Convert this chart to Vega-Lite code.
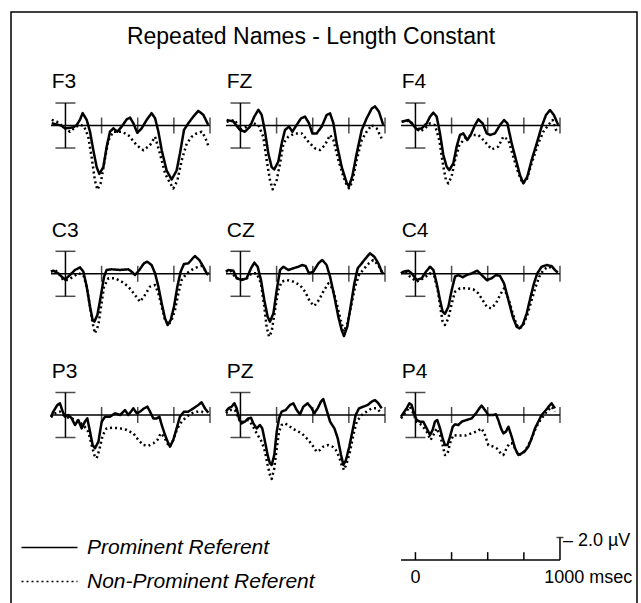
{
"$schema": "https://vega.github.io/schema/vega-lite/v6.json",
"width": 626, "height": 600,
"autosize": {"type": "none"},
"padding": {"left": 11, "top": 12, "right": 4, "bottom": 0},
"background": "white",
"config": {"view": {"stroke": "black", "strokeWidth": 1.5}, "axis": {"disable": true}, "font": "Liberation Sans", "text": {"font": "Liberation Sans"}},
"title": {"text": "Repeated Names - Length Constant", "fontSize": 23, "font": "Liberation Sans", "fontWeight": "normal", "color": "black", "anchor": "middle", "baseline": "alphabetic", "offset": -55, "dx": -13},
"datasets": {
"one": [{}],
"ticks": [{"t": 250}, {"t": 500}, {"t": 750}, {"t": 1000}],
"caps": [{"v": -2}, {"v": 2}],
"sticks": [{"t": 0}, {"t": 250}, {"t": 500}, {"t": 750}],
"erp": [
{"ch":"F3","cond":"P","t":-95,"v":-0.2},{"ch":"F3","cond":"P","t":-60,"v":-0.1},{"ch":"F3","cond":"P","t":-30,"v":0.0},{"ch":"F3","cond":"P","t":-3,"v":0.25},{"ch":"F3","cond":"P","t":30,"v":0.2},{"ch":"F3","cond":"P","t":54,"v":0.16},{"ch":"F3","cond":"P","t":78,"v":-0.05},{"ch":"F3","cond":"P","t":100,"v":-0.5},{"ch":"F3","cond":"P","t":119,"v":-1.1},{"ch":"F3","cond":"P","t":147,"v":-0.5},{"ch":"F3","cond":"P","t":170,"v":0.55},{"ch":"F3","cond":"P","t":193,"v":2.2},{"ch":"F3","cond":"P","t":216,"v":3.7},{"ch":"F3","cond":"P","t":234,"v":4.3},{"ch":"F3","cond":"P","t":262,"v":3.7},{"ch":"F3","cond":"P","t":285,"v":1.9},{"ch":"F3","cond":"P","t":308,"v":0.55},{"ch":"F3","cond":"P","t":331,"v":0.25},{"ch":"F3","cond":"P","t":359,"v":0.55},{"ch":"F3","cond":"P","t":389,"v":0.1},{"ch":"F3","cond":"P","t":424,"v":-0.55},{"ch":"F3","cond":"P","t":447,"v":-0.7},{"ch":"F3","cond":"P","t":470,"v":-0.2},{"ch":"F3","cond":"P","t":497,"v":0.65},{"ch":"F3","cond":"P","t":527,"v":0.25},{"ch":"F3","cond":"P","t":562,"v":-0.5},{"ch":"F3","cond":"P","t":596,"v":-1.1},{"ch":"F3","cond":"P","t":620,"v":-0.65},{"ch":"F3","cond":"P","t":643,"v":0.55},{"ch":"F3","cond":"P","t":666,"v":2.2},{"ch":"F3","cond":"P","t":700,"v":4.0},{"ch":"F3","cond":"P","t":735,"v":4.8},{"ch":"F3","cond":"P","t":769,"v":4.0},{"ch":"F3","cond":"P","t":792,"v":2.5},{"ch":"F3","cond":"P","t":820,"v":0.4},{"ch":"F3","cond":"P","t":850,"v":-0.2},{"ch":"F3","cond":"P","t":885,"v":-0.8},{"ch":"F3","cond":"P","t":919,"v":-1.3},{"ch":"F3","cond":"P","t":954,"v":-0.95},{"ch":"F3","cond":"P","t":988,"v":-0.05},
{"ch":"F3","cond":"N","t":-95,"v":-0.5},{"ch":"F3","cond":"N","t":-61,"v":-0.35},{"ch":"F3","cond":"N","t":-3,"v":0.25},{"ch":"F3","cond":"N","t":31,"v":0.55},{"ch":"F3","cond":"N","t":66,"v":0.16},{"ch":"F3","cond":"N","t":101,"v":-0.05},{"ch":"F3","cond":"N","t":128,"v":0.04},{"ch":"F3","cond":"N","t":158,"v":1.0},{"ch":"F3","cond":"N","t":181,"v":2.8},{"ch":"F3","cond":"N","t":204,"v":4.9},{"ch":"F3","cond":"N","t":221,"v":5.7},{"ch":"F3","cond":"N","t":244,"v":5.1},{"ch":"F3","cond":"N","t":267,"v":3.4},{"ch":"F3","cond":"N","t":297,"v":1.3},{"ch":"F3","cond":"N","t":331,"v":0.55},{"ch":"F3","cond":"N","t":389,"v":0.55},{"ch":"F3","cond":"N","t":435,"v":0.85},{"ch":"F3","cond":"N","t":493,"v":1.75},{"ch":"F3","cond":"N","t":539,"v":2.2},{"ch":"F3","cond":"N","t":585,"v":1.75},{"ch":"F3","cond":"N","t":620,"v":1.0},{"ch":"F3","cond":"N","t":654,"v":2.5},{"ch":"F3","cond":"N","t":689,"v":4.25},{"ch":"F3","cond":"N","t":723,"v":5.1},{"ch":"F3","cond":"N","t":746,"v":5.6},{"ch":"F3","cond":"N","t":774,"v":4.9},{"ch":"F3","cond":"N","t":804,"v":3.1},{"ch":"F3","cond":"N","t":839,"v":1.6},{"ch":"F3","cond":"N","t":873,"v":1.0},{"ch":"F3","cond":"N","t":908,"v":0.7},{"ch":"F3","cond":"N","t":942,"v":0.55},{"ch":"F3","cond":"N","t":965,"v":1.0},{"ch":"F3","cond":"N","t":988,"v":1.8},
{"ch":"FZ","cond":"P","t":-95,"v":-0.5},{"ch":"FZ","cond":"P","t":-49,"v":-0.35},{"ch":"FZ","cond":"P","t":-3,"v":0.4},{"ch":"FZ","cond":"P","t":31,"v":0.55},{"ch":"FZ","cond":"P","t":66,"v":0.1},{"ch":"FZ","cond":"P","t":96,"v":-0.8},{"ch":"FZ","cond":"P","t":124,"v":-1.4},{"ch":"FZ","cond":"P","t":147,"v":-0.95},{"ch":"FZ","cond":"P","t":170,"v":0.55},{"ch":"FZ","cond":"P","t":193,"v":2.5},{"ch":"FZ","cond":"P","t":216,"v":3.7},{"ch":"FZ","cond":"P","t":234,"v":3.9},{"ch":"FZ","cond":"P","t":262,"v":3.2},{"ch":"FZ","cond":"P","t":285,"v":1.6},{"ch":"FZ","cond":"P","t":308,"v":0.4},{"ch":"FZ","cond":"P","t":336,"v":0.1},{"ch":"FZ","cond":"P","t":359,"v":0.55},{"ch":"FZ","cond":"P","t":389,"v":-0.05},{"ch":"FZ","cond":"P","t":419,"v":-0.64},{"ch":"FZ","cond":"P","t":447,"v":-0.79},{"ch":"FZ","cond":"P","t":474,"v":-0.2},{"ch":"FZ","cond":"P","t":497,"v":0.7},{"ch":"FZ","cond":"P","t":527,"v":0.7},{"ch":"FZ","cond":"P","t":562,"v":0.1},{"ch":"FZ","cond":"P","t":596,"v":-0.93},{"ch":"FZ","cond":"P","t":620,"v":-1.08},{"ch":"FZ","cond":"P","t":643,"v":-0.2},{"ch":"FZ","cond":"P","t":666,"v":1.6},{"ch":"FZ","cond":"P","t":700,"v":3.66},{"ch":"FZ","cond":"P","t":735,"v":5.1},{"ch":"FZ","cond":"P","t":751,"v":5.4},{"ch":"FZ","cond":"P","t":774,"v":4.5},{"ch":"FZ","cond":"P","t":804,"v":2.5},{"ch":"FZ","cond":"P","t":839,"v":0.4},{"ch":"FZ","cond":"P","t":873,"v":-0.64},{"ch":"FZ","cond":"P","t":908,"v":-1.5},{"ch":"FZ","cond":"P","t":931,"v":-1.7},{"ch":"FZ","cond":"P","t":958,"v":-1.23},{"ch":"FZ","cond":"P","t":988,"v":-0.05},
{"ch":"FZ","cond":"N","t":-95,"v":-0.34},{"ch":"FZ","cond":"N","t":-38,"v":-0.49},{"ch":"FZ","cond":"N","t":-3,"v":0.4},{"ch":"FZ","cond":"N","t":43,"v":0.1},{"ch":"FZ","cond":"N","t":89,"v":-0.19},{"ch":"FZ","cond":"N","t":124,"v":-0.04},{"ch":"FZ","cond":"N","t":158,"v":1.0},{"ch":"FZ","cond":"N","t":181,"v":3.07},{"ch":"FZ","cond":"N","t":204,"v":4.84},{"ch":"FZ","cond":"N","t":223,"v":5.67},{"ch":"FZ","cond":"N","t":251,"v":4.84},{"ch":"FZ","cond":"N","t":274,"v":3.36},{"ch":"FZ","cond":"N","t":297,"v":1.59},{"ch":"FZ","cond":"N","t":331,"v":0.99},{"ch":"FZ","cond":"N","t":377,"v":0.7},{"ch":"FZ","cond":"N","t":424,"v":0.7},{"ch":"FZ","cond":"N","t":470,"v":1.44},{"ch":"FZ","cond":"N","t":516,"v":2.03},{"ch":"FZ","cond":"N","t":550,"v":2.18},{"ch":"FZ","cond":"N","t":585,"v":1.73},{"ch":"FZ","cond":"N","t":620,"v":0.84},{"ch":"FZ","cond":"N","t":643,"v":1.29},{"ch":"FZ","cond":"N","t":677,"v":3.07},{"ch":"FZ","cond":"N","t":712,"v":4.55},{"ch":"FZ","cond":"N","t":735,"v":5.29},{"ch":"FZ","cond":"N","t":751,"v":5.58},{"ch":"FZ","cond":"N","t":774,"v":4.99},{"ch":"FZ","cond":"N","t":804,"v":3.07},{"ch":"FZ","cond":"N","t":839,"v":1.29},{"ch":"FZ","cond":"N","t":873,"v":0.55},{"ch":"FZ","cond":"N","t":908,"v":-0.04},{"ch":"FZ","cond":"N","t":942,"v":0.25},{"ch":"FZ","cond":"N","t":977,"v":1.14},
{"ch":"F4","cond":"P","t":-95,"v":-0.34},{"ch":"F4","cond":"P","t":-49,"v":-0.49},{"ch":"F4","cond":"P","t":-15,"v":-0.04},{"ch":"F4","cond":"P","t":8,"v":0.34},{"ch":"F4","cond":"P","t":43,"v":0.25},{"ch":"F4","cond":"P","t":78,"v":-0.19},{"ch":"F4","cond":"P","t":101,"v":-0.79},{"ch":"F4","cond":"P","t":124,"v":-1.14},{"ch":"F4","cond":"P","t":147,"v":-0.79},{"ch":"F4","cond":"P","t":170,"v":0.7},{"ch":"F4","cond":"P","t":193,"v":2.62},{"ch":"F4","cond":"P","t":216,"v":3.66},{"ch":"F4","cond":"P","t":234,"v":3.96},{"ch":"F4","cond":"P","t":262,"v":3.36},{"ch":"F4","cond":"P","t":285,"v":1.88},{"ch":"F4","cond":"P","t":308,"v":0.84},{"ch":"F4","cond":"P","t":331,"v":0.7},{"ch":"F4","cond":"P","t":359,"v":1.29},{"ch":"F4","cond":"P","t":382,"v":0.84},{"ch":"F4","cond":"P","t":412,"v":-0.04},{"ch":"F4","cond":"P","t":435,"v":-0.55},{"ch":"F4","cond":"P","t":465,"v":-0.19},{"ch":"F4","cond":"P","t":493,"v":0.7},{"ch":"F4","cond":"P","t":516,"v":0.84},{"ch":"F4","cond":"P","t":550,"v":0.7},{"ch":"F4","cond":"P","t":585,"v":-0.04},{"ch":"F4","cond":"P","t":613,"v":-0.49},{"ch":"F4","cond":"P","t":636,"v":-0.19},{"ch":"F4","cond":"P","t":666,"v":1.59},{"ch":"F4","cond":"P","t":696,"v":3.07},{"ch":"F4","cond":"P","t":723,"v":4.4},{"ch":"F4","cond":"P","t":746,"v":5.14},{"ch":"F4","cond":"P","t":774,"v":4.55},{"ch":"F4","cond":"P","t":804,"v":3.07},{"ch":"F4","cond":"P","t":839,"v":1.59},{"ch":"F4","cond":"P","t":873,"v":0.1},{"ch":"F4","cond":"P","t":903,"v":-0.93},{"ch":"F4","cond":"P","t":931,"v":-1.38},{"ch":"F4","cond":"P","t":958,"v":-0.93},{"ch":"F4","cond":"P","t":988,"v":-0.04},
{"ch":"F4","cond":"N","t":-95,"v":-0.34},{"ch":"F4","cond":"N","t":-38,"v":-0.43},{"ch":"F4","cond":"N","t":-3,"v":0.1},{"ch":"F4","cond":"N","t":31,"v":0.55},{"ch":"F4","cond":"N","t":66,"v":0.25},{"ch":"F4","cond":"N","t":101,"v":-0.19},{"ch":"F4","cond":"N","t":135,"v":-0.04},{"ch":"F4","cond":"N","t":165,"v":1.29},{"ch":"F4","cond":"N","t":193,"v":3.66},{"ch":"F4","cond":"N","t":211,"v":4.84},{"ch":"F4","cond":"N","t":227,"v":5.14},{"ch":"F4","cond":"N","t":250,"v":4.55},{"ch":"F4","cond":"N","t":274,"v":3.07},{"ch":"F4","cond":"N","t":304,"v":1.73},{"ch":"F4","cond":"N","t":343,"v":1.14},{"ch":"F4","cond":"N","t":389,"v":0.84},{"ch":"F4","cond":"N","t":435,"v":0.84},{"ch":"F4","cond":"N","t":481,"v":1.44},{"ch":"F4","cond":"N","t":527,"v":2.12},{"ch":"F4","cond":"N","t":573,"v":1.88},{"ch":"F4","cond":"N","t":608,"v":0.99},{"ch":"F4","cond":"N","t":643,"v":1.29},{"ch":"F4","cond":"N","t":677,"v":2.77},{"ch":"F4","cond":"N","t":712,"v":4.25},{"ch":"F4","cond":"N","t":742,"v":5.14},{"ch":"F4","cond":"N","t":769,"v":4.84},{"ch":"F4","cond":"N","t":804,"v":3.36},{"ch":"F4","cond":"N","t":850,"v":1.59},{"ch":"F4","cond":"N","t":885,"v":0.55},{"ch":"F4","cond":"N","t":919,"v":-0.04},{"ch":"F4","cond":"N","t":949,"v":-0.49},{"ch":"F4","cond":"N","t":977,"v":0.55},
{"ch":"C3","cond":"P","t":-100,"v":-0.2},{"ch":"C3","cond":"P","t":-84,"v":-0.28},{"ch":"C3","cond":"P","t":-49,"v":-0.04},{"ch":"C3","cond":"P","t":-26,"v":0.25},{"ch":"C3","cond":"P","t":-3,"v":0.5},{"ch":"C3","cond":"P","t":31,"v":0.11},{"ch":"C3","cond":"P","t":66,"v":-0.34},{"ch":"C3","cond":"P","t":101,"v":-0.57},{"ch":"C3","cond":"P","t":124,"v":-0.19},{"ch":"C3","cond":"P","t":147,"v":1.14},{"ch":"C3","cond":"P","t":170,"v":2.92},{"ch":"C3","cond":"P","t":188,"v":4.11},{"ch":"C3","cond":"P","t":200,"v":4.25},{"ch":"C3","cond":"P","t":221,"v":3.66},{"ch":"C3","cond":"P","t":244,"v":2.03},{"ch":"C3","cond":"P","t":267,"v":0.25},{"ch":"C3","cond":"P","t":285,"v":-0.34},{"ch":"C3","cond":"P","t":320,"v":-0.4},{"ch":"C3","cond":"P","t":378,"v":-0.34},{"ch":"C3","cond":"P","t":435,"v":-0.4},{"ch":"C3","cond":"P","t":458,"v":-0.19},{"ch":"C3","cond":"P","t":481,"v":0.11},{"ch":"C3","cond":"P","t":511,"v":-0.34},{"ch":"C3","cond":"P","t":543,"v":-0.93},{"ch":"C3","cond":"P","t":566,"v":-1.08},{"ch":"C3","cond":"P","t":596,"v":-0.78},{"ch":"C3","cond":"P","t":620,"v":-0.04},{"ch":"C3","cond":"P","t":643,"v":1.14},{"ch":"C3","cond":"P","t":666,"v":2.63},{"ch":"C3","cond":"P","t":689,"v":3.96},{"ch":"C3","cond":"P","t":707,"v":4.55},{"ch":"C3","cond":"P","t":728,"v":4.11},{"ch":"C3","cond":"P","t":751,"v":2.92},{"ch":"C3","cond":"P","t":774,"v":1.14},{"ch":"C3","cond":"P","t":797,"v":-0.19},{"ch":"C3","cond":"P","t":820,"v":-0.87},{"ch":"C3","cond":"P","t":850,"v":-0.93},{"ch":"C3","cond":"P","t":880,"v":-1.37},{"ch":"C3","cond":"P","t":896,"v":-1.58},{"ch":"C3","cond":"P","t":926,"v":-1.23},{"ch":"C3","cond":"P","t":954,"v":-0.63},{"ch":"C3","cond":"P","t":977,"v":-0.04},{"ch":"C3","cond":"P","t":988,"v":0.1},
{"ch":"C3","cond":"N","t":-100,"v":-0.2},{"ch":"C3","cond":"N","t":-72,"v":-0.34},{"ch":"C3","cond":"N","t":-38,"v":0.11},{"ch":"C3","cond":"N","t":-15,"v":0.55},{"ch":"C3","cond":"N","t":20,"v":0.55},{"ch":"C3","cond":"N","t":54,"v":0.25},{"ch":"C3","cond":"N","t":89,"v":-0.04},{"ch":"C3","cond":"N","t":124,"v":0.11},{"ch":"C3","cond":"N","t":147,"v":1.14},{"ch":"C3","cond":"N","t":170,"v":2.92},{"ch":"C3","cond":"N","t":188,"v":4.4},{"ch":"C3","cond":"N","t":204,"v":5.29},{"ch":"C3","cond":"N","t":228,"v":4.55},{"ch":"C3","cond":"N","t":246,"v":2.92},{"ch":"C3","cond":"N","t":267,"v":1.14},{"ch":"C3","cond":"N","t":297,"v":0.4},{"ch":"C3","cond":"N","t":343,"v":0.4},{"ch":"C3","cond":"N","t":389,"v":0.7},{"ch":"C3","cond":"N","t":435,"v":1.14},{"ch":"C3","cond":"N","t":481,"v":1.88},{"ch":"C3","cond":"N","t":516,"v":2.48},{"ch":"C3","cond":"N","t":550,"v":1.88},{"ch":"C3","cond":"N","t":585,"v":1.14},{"ch":"C3","cond":"N","t":620,"v":1.0},{"ch":"C3","cond":"N","t":643,"v":1.74},{"ch":"C3","cond":"N","t":666,"v":2.92},{"ch":"C3","cond":"N","t":689,"v":4.11},{"ch":"C3","cond":"N","t":712,"v":4.55},{"ch":"C3","cond":"N","t":735,"v":4.11},{"ch":"C3","cond":"N","t":758,"v":3.22},{"ch":"C3","cond":"N","t":781,"v":1.74},{"ch":"C3","cond":"N","t":804,"v":0.55},{"ch":"C3","cond":"N","t":839,"v":-0.04},{"ch":"C3","cond":"N","t":873,"v":-0.34},{"ch":"C3","cond":"N","t":908,"v":-0.57},{"ch":"C3","cond":"N","t":942,"v":-0.69},{"ch":"C3","cond":"N","t":965,"v":-0.34},{"ch":"C3","cond":"N","t":988,"v":0.0},
{"ch":"CZ","cond":"P","t":-100,"v":-0.19},{"ch":"CZ","cond":"P","t":-84,"v":-0.34},{"ch":"CZ","cond":"P","t":-49,"v":-0.28},{"ch":"CZ","cond":"P","t":-26,"v":0.4},{"ch":"CZ","cond":"P","t":8,"v":0.55},{"ch":"CZ","cond":"P","t":43,"v":0.4},{"ch":"CZ","cond":"P","t":73,"v":-0.49},{"ch":"CZ","cond":"P","t":96,"v":-0.99},{"ch":"CZ","cond":"P","t":119,"v":-0.63},{"ch":"CZ","cond":"P","t":142,"v":0.55},{"ch":"CZ","cond":"P","t":165,"v":2.33},{"ch":"CZ","cond":"P","t":188,"v":3.81},{"ch":"CZ","cond":"P","t":204,"v":4.25},{"ch":"CZ","cond":"P","t":228,"v":3.51},{"ch":"CZ","cond":"P","t":251,"v":1.44},{"ch":"CZ","cond":"P","t":274,"v":-0.34},{"ch":"CZ","cond":"P","t":297,"v":-0.63},{"ch":"CZ","cond":"P","t":331,"v":-0.34},{"ch":"CZ","cond":"P","t":366,"v":-0.49},{"ch":"CZ","cond":"P","t":401,"v":-0.63},{"ch":"CZ","cond":"P","t":428,"v":-0.78},{"ch":"CZ","cond":"P","t":451,"v":-0.69},{"ch":"CZ","cond":"P","t":474,"v":-0.04},{"ch":"CZ","cond":"P","t":504,"v":-0.19},{"ch":"CZ","cond":"P","t":539,"v":-0.93},{"ch":"CZ","cond":"P","t":566,"v":-1.23},{"ch":"CZ","cond":"P","t":596,"v":-0.78},{"ch":"CZ","cond":"P","t":620,"v":0.25},{"ch":"CZ","cond":"P","t":650,"v":2.03},{"ch":"CZ","cond":"P","t":677,"v":3.81},{"ch":"CZ","cond":"P","t":700,"v":4.99},{"ch":"CZ","cond":"P","t":716,"v":5.53},{"ch":"CZ","cond":"P","t":739,"v":4.7},{"ch":"CZ","cond":"P","t":762,"v":2.92},{"ch":"CZ","cond":"P","t":788,"v":0.85},{"ch":"CZ","cond":"P","t":811,"v":-0.49},{"ch":"CZ","cond":"P","t":839,"v":-0.93},{"ch":"CZ","cond":"P","t":866,"v":-1.37},{"ch":"CZ","cond":"P","t":896,"v":-1.82},{"ch":"CZ","cond":"P","t":926,"v":-1.52},{"ch":"CZ","cond":"P","t":954,"v":-0.93},{"ch":"CZ","cond":"P","t":977,"v":-0.19},{"ch":"CZ","cond":"P","t":988,"v":0.0},
{"ch":"CZ","cond":"N","t":-100,"v":-0.2},{"ch":"CZ","cond":"N","t":-72,"v":-0.34},{"ch":"CZ","cond":"N","t":-38,"v":0.25},{"ch":"CZ","cond":"N","t":-3,"v":0.55},{"ch":"CZ","cond":"N","t":43,"v":0.4},{"ch":"CZ","cond":"N","t":78,"v":-0.04},{"ch":"CZ","cond":"N","t":112,"v":-0.04},{"ch":"CZ","cond":"N","t":142,"v":0.85},{"ch":"CZ","cond":"N","t":165,"v":2.92},{"ch":"CZ","cond":"N","t":181,"v":4.7},{"ch":"CZ","cond":"N","t":198,"v":5.59},{"ch":"CZ","cond":"N","t":216,"v":5.14},{"ch":"CZ","cond":"N","t":239,"v":3.22},{"ch":"CZ","cond":"N","t":262,"v":1.44},{"ch":"CZ","cond":"N","t":285,"v":0.7},{"ch":"CZ","cond":"N","t":320,"v":0.55},{"ch":"CZ","cond":"N","t":366,"v":0.7},{"ch":"CZ","cond":"N","t":412,"v":1.0},{"ch":"CZ","cond":"N","t":447,"v":1.59},{"ch":"CZ","cond":"N","t":481,"v":2.48},{"ch":"CZ","cond":"N","t":511,"v":2.86},{"ch":"CZ","cond":"N","t":543,"v":2.33},{"ch":"CZ","cond":"N","t":573,"v":1.59},{"ch":"CZ","cond":"N","t":608,"v":0.85},{"ch":"CZ","cond":"N","t":636,"v":1.29},{"ch":"CZ","cond":"N","t":666,"v":2.63},{"ch":"CZ","cond":"N","t":693,"v":4.11},{"ch":"CZ","cond":"N","t":716,"v":5.14},{"ch":"CZ","cond":"N","t":739,"v":4.4},{"ch":"CZ","cond":"N","t":765,"v":2.92},{"ch":"CZ","cond":"N","t":793,"v":1.14},{"ch":"CZ","cond":"N","t":820,"v":0.11},{"ch":"CZ","cond":"N","t":857,"v":-0.49},{"ch":"CZ","cond":"N","t":889,"v":-0.93},{"ch":"CZ","cond":"N","t":919,"v":-1.23},{"ch":"CZ","cond":"N","t":954,"v":-0.78},{"ch":"CZ","cond":"N","t":977,"v":-0.19},
{"ch":"C4","cond":"P","t":-100,"v":-0.04},{"ch":"C4","cond":"P","t":-84,"v":-0.19},{"ch":"C4","cond":"P","t":-49,"v":-0.28},{"ch":"C4","cond":"P","t":-26,"v":-0.04},{"ch":"C4","cond":"P","t":8,"v":0.55},{"ch":"C4","cond":"P","t":43,"v":0.4},{"ch":"C4","cond":"P","t":73,"v":-0.19},{"ch":"C4","cond":"P","t":101,"v":-0.63},{"ch":"C4","cond":"P","t":124,"v":-0.34},{"ch":"C4","cond":"P","t":147,"v":0.85},{"ch":"C4","cond":"P","t":170,"v":2.33},{"ch":"C4","cond":"P","t":188,"v":3.36},{"ch":"C4","cond":"P","t":204,"v":3.57},{"ch":"C4","cond":"P","t":228,"v":2.92},{"ch":"C4","cond":"P","t":251,"v":1.44},{"ch":"C4","cond":"P","t":274,"v":0.25},{"ch":"C4","cond":"P","t":297,"v":0.11},{"ch":"C4","cond":"P","t":327,"v":0.31},{"ch":"C4","cond":"P","t":355,"v":0.11},{"ch":"C4","cond":"P","t":389,"v":-0.04},{"ch":"C4","cond":"P","t":428,"v":-0.28},{"ch":"C4","cond":"P","t":458,"v":0.11},{"ch":"C4","cond":"P","t":493,"v":0.55},{"ch":"C4","cond":"P","t":527,"v":0.4},{"ch":"C4","cond":"P","t":557,"v":0.11},{"ch":"C4","cond":"P","t":585,"v":0.19},{"ch":"C4","cond":"P","t":613,"v":0.85},{"ch":"C4","cond":"P","t":643,"v":2.33},{"ch":"C4","cond":"P","t":673,"v":3.81},{"ch":"C4","cond":"P","t":700,"v":4.7},{"ch":"C4","cond":"P","t":719,"v":4.85},{"ch":"C4","cond":"P","t":742,"v":4.55},{"ch":"C4","cond":"P","t":770,"v":3.51},{"ch":"C4","cond":"P","t":797,"v":2.03},{"ch":"C4","cond":"P","t":820,"v":0.85},{"ch":"C4","cond":"P","t":843,"v":-0.04},{"ch":"C4","cond":"P","t":873,"v":-0.63},{"ch":"C4","cond":"P","t":908,"v":-0.78},{"ch":"C4","cond":"P","t":942,"v":-0.69},{"ch":"C4","cond":"P","t":965,"v":-0.34},{"ch":"C4","cond":"P","t":985,"v":-0.1},
{"ch":"C4","cond":"N","t":-100,"v":-0.04},{"ch":"C4","cond":"N","t":-72,"v":-0.19},{"ch":"C4","cond":"N","t":-38,"v":0.25},{"ch":"C4","cond":"N","t":8,"v":0.7},{"ch":"C4","cond":"N","t":55,"v":0.4},{"ch":"C4","cond":"N","t":101,"v":-0.04},{"ch":"C4","cond":"N","t":131,"v":0.25},{"ch":"C4","cond":"N","t":154,"v":1.44},{"ch":"C4","cond":"N","t":175,"v":3.22},{"ch":"C4","cond":"N","t":188,"v":4.25},{"ch":"C4","cond":"N","t":204,"v":4.55},{"ch":"C4","cond":"N","t":228,"v":3.96},{"ch":"C4","cond":"N","t":251,"v":2.63},{"ch":"C4","cond":"N","t":274,"v":1.59},{"ch":"C4","cond":"N","t":308,"v":1.29},{"ch":"C4","cond":"N","t":354,"v":1.29},{"ch":"C4","cond":"N","t":400,"v":1.38},{"ch":"C4","cond":"N","t":435,"v":1.74},{"ch":"C4","cond":"N","t":465,"v":2.33},{"ch":"C4","cond":"N","t":493,"v":2.92},{"ch":"C4","cond":"N","t":523,"v":3.07},{"ch":"C4","cond":"N","t":557,"v":2.63},{"ch":"C4","cond":"N","t":585,"v":1.88},{"ch":"C4","cond":"N","t":613,"v":1.29},{"ch":"C4","cond":"N","t":643,"v":2.18},{"ch":"C4","cond":"N","t":673,"v":3.51},{"ch":"C4","cond":"N","t":700,"v":4.55},{"ch":"C4","cond":"N","t":723,"v":4.85},{"ch":"C4","cond":"N","t":746,"v":4.55},{"ch":"C4","cond":"N","t":774,"v":3.66},{"ch":"C4","cond":"N","t":804,"v":2.33},{"ch":"C4","cond":"N","t":832,"v":1.14},{"ch":"C4","cond":"N","t":857,"v":0.25},{"ch":"C4","cond":"N","t":885,"v":-0.34},{"ch":"C4","cond":"N","t":919,"v":-0.63},{"ch":"C4","cond":"N","t":954,"v":-0.49},
{"ch":"P3","cond":"P","t":-100,"v":0.15},{"ch":"P3","cond":"P","t":-84,"v":-0.3},{"ch":"P3","cond":"P","t":-56,"v":-0.89},{"ch":"P3","cond":"P","t":-38,"v":-1.04},{"ch":"P3","cond":"P","t":-19,"v":-0.3},{"ch":"P3","cond":"P","t":-3,"v":0.15},{"ch":"P3","cond":"P","t":20,"v":0.0},{"ch":"P3","cond":"P","t":43,"v":0.3},{"ch":"P3","cond":"P","t":66,"v":0.89},{"ch":"P3","cond":"P","t":89,"v":0.44},{"ch":"P3","cond":"P","t":112,"v":1.19},{"ch":"P3","cond":"P","t":135,"v":0.59},{"ch":"P3","cond":"P","t":151,"v":0.3},{"ch":"P3","cond":"P","t":170,"v":1.48},{"ch":"P3","cond":"P","t":188,"v":2.67},{"ch":"P3","cond":"P","t":204,"v":2.96},{"ch":"P3","cond":"P","t":228,"v":2.37},{"ch":"P3","cond":"P","t":251,"v":0.59},{"ch":"P3","cond":"P","t":274,"v":0.15},{"ch":"P3","cond":"P","t":308,"v":0.15},{"ch":"P3","cond":"P","t":343,"v":-0.15},{"ch":"P3","cond":"P","t":378,"v":0.0},{"ch":"P3","cond":"P","t":412,"v":-0.44},{"ch":"P3","cond":"P","t":435,"v":0.0},{"ch":"P3","cond":"P","t":470,"v":-0.59},{"ch":"P3","cond":"P","t":493,"v":-0.15},{"ch":"P3","cond":"P","t":516,"v":-0.3},{"ch":"P3","cond":"P","t":544,"v":-0.59},{"ch":"P3","cond":"P","t":567,"v":-0.74},{"ch":"P3","cond":"P","t":585,"v":-0.3},{"ch":"P3","cond":"P","t":608,"v":0.3},{"ch":"P3","cond":"P","t":631,"v":0.3},{"ch":"P3","cond":"P","t":650,"v":0.15},{"ch":"P3","cond":"P","t":666,"v":0.89},{"ch":"P3","cond":"P","t":689,"v":1.78},{"ch":"P3","cond":"P","t":712,"v":2.52},{"ch":"P3","cond":"P","t":723,"v":2.81},{"ch":"P3","cond":"P","t":746,"v":2.22},{"ch":"P3","cond":"P","t":769,"v":1.19},{"ch":"P3","cond":"P","t":792,"v":0.15},{"ch":"P3","cond":"P","t":820,"v":-0.3},{"ch":"P3","cond":"P","t":850,"v":-0.3},{"ch":"P3","cond":"P","t":885,"v":-0.59},{"ch":"P3","cond":"P","t":919,"v":-0.89},{"ch":"P3","cond":"P","t":942,"v":-1.13},{"ch":"P3","cond":"P","t":965,"v":-0.59},{"ch":"P3","cond":"P","t":988,"v":-0.2},
{"ch":"P3","cond":"N","t":-100,"v":0.2},{"ch":"P3","cond":"N","t":-72,"v":-0.15},{"ch":"P3","cond":"N","t":-38,"v":-0.3},{"ch":"P3","cond":"N","t":-3,"v":0.15},{"ch":"P3","cond":"N","t":43,"v":0.3},{"ch":"P3","cond":"N","t":89,"v":0.59},{"ch":"P3","cond":"N","t":124,"v":0.89},{"ch":"P3","cond":"N","t":158,"v":1.48},{"ch":"P3","cond":"N","t":181,"v":2.67},{"ch":"P3","cond":"N","t":200,"v":3.56},{"ch":"P3","cond":"N","t":216,"v":3.85},{"ch":"P3","cond":"N","t":234,"v":3.11},{"ch":"P3","cond":"N","t":258,"v":1.78},{"ch":"P3","cond":"N","t":285,"v":1.19},{"ch":"P3","cond":"N","t":331,"v":1.13},{"ch":"P3","cond":"N","t":378,"v":1.19},{"ch":"P3","cond":"N","t":424,"v":1.33},{"ch":"P3","cond":"N","t":470,"v":1.63},{"ch":"P3","cond":"N","t":504,"v":2.22},{"ch":"P3","cond":"N","t":539,"v":2.67},{"ch":"P3","cond":"N","t":573,"v":2.73},{"ch":"P3","cond":"N","t":608,"v":2.52},{"ch":"P3","cond":"N","t":636,"v":2.22},{"ch":"P3","cond":"N","t":659,"v":1.63},{"ch":"P3","cond":"N","t":682,"v":1.93},{"ch":"P3","cond":"N","t":705,"v":2.52},{"ch":"P3","cond":"N","t":723,"v":2.81},{"ch":"P3","cond":"N","t":746,"v":2.22},{"ch":"P3","cond":"N","t":774,"v":1.19},{"ch":"P3","cond":"N","t":804,"v":0.59},{"ch":"P3","cond":"N","t":839,"v":0.15},{"ch":"P3","cond":"N","t":873,"v":-0.15},{"ch":"P3","cond":"N","t":908,"v":-0.3},{"ch":"P3","cond":"N","t":942,"v":-0.3},{"ch":"P3","cond":"N","t":965,"v":-0.15},
{"ch":"PZ","cond":"P","t":-100,"v":-0.3},{"ch":"PZ","cond":"P","t":-84,"v":-0.59},{"ch":"PZ","cond":"P","t":-61,"v":-0.74},{"ch":"PZ","cond":"P","t":-42,"v":-1.04},{"ch":"PZ","cond":"P","t":-26,"v":-0.59},{"ch":"PZ","cond":"P","t":-10,"v":0.3},{"ch":"PZ","cond":"P","t":8,"v":0.74},{"ch":"PZ","cond":"P","t":31,"v":0.59},{"ch":"PZ","cond":"P","t":54,"v":0.3},{"ch":"PZ","cond":"P","t":73,"v":0.24},{"ch":"PZ","cond":"P","t":89,"v":0.74},{"ch":"PZ","cond":"P","t":112,"v":1.19},{"ch":"PZ","cond":"P","t":135,"v":0.89},{"ch":"PZ","cond":"P","t":151,"v":1.19},{"ch":"PZ","cond":"P","t":170,"v":2.37},{"ch":"PZ","cond":"P","t":188,"v":3.56},{"ch":"PZ","cond":"P","t":204,"v":4.3},{"ch":"PZ","cond":"P","t":216,"v":4.44},{"ch":"PZ","cond":"P","t":234,"v":3.56},{"ch":"PZ","cond":"P","t":251,"v":1.48},{"ch":"PZ","cond":"P","t":267,"v":0.3},{"ch":"PZ","cond":"P","t":285,"v":-0.3},{"ch":"PZ","cond":"P","t":313,"v":-0.44},{"ch":"PZ","cond":"P","t":343,"v":-0.89},{"ch":"PZ","cond":"P","t":366,"v":-1.04},{"ch":"PZ","cond":"P","t":389,"v":-0.44},{"ch":"PZ","cond":"P","t":412,"v":-0.06},{"ch":"PZ","cond":"P","t":435,"v":-0.74},{"ch":"PZ","cond":"P","t":465,"v":-1.04},{"ch":"PZ","cond":"P","t":493,"v":-0.59},{"ch":"PZ","cond":"P","t":511,"v":-0.15},{"ch":"PZ","cond":"P","t":534,"v":-0.59},{"ch":"PZ","cond":"P","t":557,"v":-1.19},{"ch":"PZ","cond":"P","t":573,"v":-1.42},{"ch":"PZ","cond":"P","t":596,"v":-0.44},{"ch":"PZ","cond":"P","t":620,"v":0.59},{"ch":"PZ","cond":"P","t":650,"v":1.19},{"ch":"PZ","cond":"P","t":673,"v":2.07},{"ch":"PZ","cond":"P","t":696,"v":3.56},{"ch":"PZ","cond":"P","t":712,"v":4.44},{"ch":"PZ","cond":"P","t":730,"v":4.0},{"ch":"PZ","cond":"P","t":753,"v":2.81},{"ch":"PZ","cond":"P","t":774,"v":1.48},{"ch":"PZ","cond":"P","t":797,"v":0.0},{"ch":"PZ","cond":"P","t":820,"v":-0.59},{"ch":"PZ","cond":"P","t":850,"v":-0.74},{"ch":"PZ","cond":"P","t":880,"v":-0.89},{"ch":"PZ","cond":"P","t":908,"v":-1.19},{"ch":"PZ","cond":"P","t":931,"v":-1.33},{"ch":"PZ","cond":"P","t":954,"v":-1.04},{"ch":"PZ","cond":"P","t":977,"v":-0.59},
{"ch":"PZ","cond":"N","t":-100,"v":-0.15},{"ch":"PZ","cond":"N","t":-72,"v":-0.44},{"ch":"PZ","cond":"N","t":-38,"v":-0.44},{"ch":"PZ","cond":"N","t":-3,"v":0.59},{"ch":"PZ","cond":"N","t":31,"v":0.59},{"ch":"PZ","cond":"N","t":54,"v":0.44},{"ch":"PZ","cond":"N","t":82,"v":0.89},{"ch":"PZ","cond":"N","t":112,"v":1.63},{"ch":"PZ","cond":"N","t":147,"v":2.37},{"ch":"PZ","cond":"N","t":170,"v":3.26},{"ch":"PZ","cond":"N","t":188,"v":4.44},{"ch":"PZ","cond":"N","t":204,"v":5.33},{"ch":"PZ","cond":"N","t":216,"v":5.68},{"ch":"PZ","cond":"N","t":234,"v":4.74},{"ch":"PZ","cond":"N","t":251,"v":2.96},{"ch":"PZ","cond":"N","t":267,"v":1.48},{"ch":"PZ","cond":"N","t":285,"v":0.89},{"ch":"PZ","cond":"N","t":308,"v":0.74},{"ch":"PZ","cond":"N","t":343,"v":1.04},{"ch":"PZ","cond":"N","t":378,"v":1.33},{"ch":"PZ","cond":"N","t":424,"v":1.63},{"ch":"PZ","cond":"N","t":470,"v":2.22},{"ch":"PZ","cond":"N","t":504,"v":2.81},{"ch":"PZ","cond":"N","t":527,"v":3.26},{"ch":"PZ","cond":"N","t":550,"v":3.11},{"ch":"PZ","cond":"N","t":573,"v":2.81},{"ch":"PZ","cond":"N","t":608,"v":2.67},{"ch":"PZ","cond":"N","t":636,"v":2.81},{"ch":"PZ","cond":"N","t":659,"v":3.11},{"ch":"PZ","cond":"N","t":682,"v":3.7},{"ch":"PZ","cond":"N","t":700,"v":4.44},{"ch":"PZ","cond":"N","t":716,"v":4.89},{"ch":"PZ","cond":"N","t":735,"v":4.3},{"ch":"PZ","cond":"N","t":758,"v":3.26},{"ch":"PZ","cond":"N","t":781,"v":1.78},{"ch":"PZ","cond":"N","t":804,"v":0.59},{"ch":"PZ","cond":"N","t":839,"v":0.0},{"ch":"PZ","cond":"N","t":873,"v":-0.3},{"ch":"PZ","cond":"N","t":908,"v":-0.59},{"ch":"PZ","cond":"N","t":942,"v":-0.59},{"ch":"PZ","cond":"N","t":965,"v":-0.3},
{"ch":"P4","cond":"P","t":-100,"v":0.15},{"ch":"P4","cond":"P","t":-84,"v":-0.15},{"ch":"P4","cond":"P","t":-61,"v":-0.59},{"ch":"P4","cond":"P","t":-42,"v":-1.04},{"ch":"P4","cond":"P","t":-26,"v":-0.89},{"ch":"P4","cond":"P","t":-10,"v":-0.15},{"ch":"P4","cond":"P","t":8,"v":0.44},{"ch":"P4","cond":"P","t":31,"v":0.59},{"ch":"P4","cond":"P","t":54,"v":0.59},{"ch":"P4","cond":"P","t":78,"v":1.19},{"ch":"P4","cond":"P","t":101,"v":1.78},{"ch":"P4","cond":"P","t":119,"v":1.33},{"ch":"P4","cond":"P","t":135,"v":0.59},{"ch":"P4","cond":"P","t":151,"v":0.44},{"ch":"P4","cond":"P","t":170,"v":1.19},{"ch":"P4","cond":"P","t":188,"v":2.07},{"ch":"P4","cond":"P","t":204,"v":2.67},{"ch":"P4","cond":"P","t":221,"v":2.67},{"ch":"P4","cond":"P","t":239,"v":1.93},{"ch":"P4","cond":"P","t":258,"v":1.04},{"ch":"P4","cond":"P","t":274,"v":0.83},{"ch":"P4","cond":"P","t":297,"v":0.89},{"ch":"P4","cond":"P","t":320,"v":0.59},{"ch":"P4","cond":"P","t":355,"v":0.44},{"ch":"P4","cond":"P","t":389,"v":0.3},{"ch":"P4","cond":"P","t":419,"v":-0.15},{"ch":"P4","cond":"P","t":442,"v":-0.59},{"ch":"P4","cond":"P","t":458,"v":-0.83},{"ch":"P4","cond":"P","t":481,"v":-0.44},{"ch":"P4","cond":"P","t":504,"v":0.0},{"ch":"P4","cond":"P","t":539,"v":0.0},{"ch":"P4","cond":"P","t":557,"v":-0.06},{"ch":"P4","cond":"P","t":573,"v":0.44},{"ch":"P4","cond":"P","t":592,"v":1.19},{"ch":"P4","cond":"P","t":608,"v":1.63},{"ch":"P4","cond":"P","t":626,"v":1.48},{"ch":"P4","cond":"P","t":643,"v":1.04},{"ch":"P4","cond":"P","t":666,"v":1.93},{"ch":"P4","cond":"P","t":689,"v":2.96},{"ch":"P4","cond":"P","t":712,"v":3.56},{"ch":"P4","cond":"P","t":735,"v":3.41},{"ch":"P4","cond":"P","t":758,"v":3.2},{"ch":"P4","cond":"P","t":781,"v":2.81},{"ch":"P4","cond":"P","t":804,"v":2.07},{"ch":"P4","cond":"P","t":827,"v":1.19},{"ch":"P4","cond":"P","t":850,"v":0.59},{"ch":"P4","cond":"P","t":873,"v":0.0},{"ch":"P4","cond":"P","t":903,"v":-0.44},{"ch":"P4","cond":"P","t":931,"v":-0.89},{"ch":"P4","cond":"P","t":942,"v":-1.04},{"ch":"P4","cond":"P","t":965,"v":-0.59},
{"ch":"P4","cond":"N","t":-100,"v":0.3},{"ch":"P4","cond":"N","t":-72,"v":-0.15},{"ch":"P4","cond":"N","t":-38,"v":-0.74},{"ch":"P4","cond":"N","t":-15,"v":-0.15},{"ch":"P4","cond":"N","t":8,"v":0.59},{"ch":"P4","cond":"N","t":43,"v":0.89},{"ch":"P4","cond":"N","t":78,"v":1.48},{"ch":"P4","cond":"N","t":105,"v":2.22},{"ch":"P4","cond":"N","t":124,"v":1.78},{"ch":"P4","cond":"N","t":147,"v":1.19},{"ch":"P4","cond":"N","t":170,"v":1.78},{"ch":"P4","cond":"N","t":188,"v":2.67},{"ch":"P4","cond":"N","t":204,"v":3.56},{"ch":"P4","cond":"N","t":221,"v":3.5},{"ch":"P4","cond":"N","t":239,"v":2.52},{"ch":"P4","cond":"N","t":262,"v":1.78},{"ch":"P4","cond":"N","t":297,"v":1.83},{"ch":"P4","cond":"N","t":343,"v":1.83},{"ch":"P4","cond":"N","t":389,"v":1.63},{"ch":"P4","cond":"N","t":428,"v":1.44},{"ch":"P4","cond":"N","t":458,"v":1.19},{"ch":"P4","cond":"N","t":481,"v":1.78},{"ch":"P4","cond":"N","t":504,"v":2.67},{"ch":"P4","cond":"N","t":539,"v":2.81},{"ch":"P4","cond":"N","t":562,"v":2.96},{"ch":"P4","cond":"N","t":590,"v":3.41},{"ch":"P4","cond":"N","t":608,"v":3.56},{"ch":"P4","cond":"N","t":631,"v":2.96},{"ch":"P4","cond":"N","t":650,"v":2.52},{"ch":"P4","cond":"N","t":666,"v":2.52},{"ch":"P4","cond":"N","t":689,"v":2.96},{"ch":"P4","cond":"N","t":712,"v":3.56},{"ch":"P4","cond":"N","t":735,"v":3.47},{"ch":"P4","cond":"N","t":758,"v":3.2},{"ch":"P4","cond":"N","t":781,"v":2.67},{"ch":"P4","cond":"N","t":804,"v":2.07},{"ch":"P4","cond":"N","t":827,"v":1.33},{"ch":"P4","cond":"N","t":850,"v":0.74},{"ch":"P4","cond":"N","t":873,"v":0.3},{"ch":"P4","cond":"N","t":908,"v":-0.3},{"ch":"P4","cond":"N","t":942,"v":-0.74},{"ch":"P4","cond":"N","t":965,"v":-0.3}
]},
"resolve": {"scale": {"x": "independent", "y": "independent"}},
"layer": [
{"layer": [
 {"data": {"name": "erp"}, "transform": [{"filter": "datum.ch === 'F3'"}], "mark": {"type": "line", "color": "black", "strokeWidth": 2.5, "strokeJoin": "round"},
  "encoding": {"x": {"field": "t", "type": "quantitative", "scale": {"domain": [-376.7, 3954.1], "nice": false, "zero": false}},
   "y": {"field": "v", "type": "quantitative", "scale": {"domain": [-10.09, 43.24], "nice": false, "zero": false, "reverse": true}},
   "strokeDash": {"field": "cond", "type": "nominal", "scale": {"domain": ["P", "N"], "range": [[1, 0], [2, 3]]},
    "legend": {"title": null, "orient": "none", "legendX": 4, "legendY": 525, "direction": "vertical", "padding": 0, "symbolType": "M-1,0H13", "symbolSize": 64, "symbolStrokeWidth": 1.5, "symbolStrokeColor": "black", "symbolFillColor": "transparent", "labelFont": "Liberation Sans", "labelFontSize": 21, "labelFontStyle": "italic", "labelColor": "black", "labelOffset": 51, "labelLimit": 400, "rowPadding": 12, "labelExpr": "datum.label === 'P' ? 'Prominent Referent' : 'Non-Prominent Referent'"}}}},
 {"data": {"name": "one"}, "mark": {"type": "rule", "color": "black", "strokeWidth": 1.5}, "encoding": {"x": {"datum": -100, "type": "quantitative"}, "x2": {"datum": 1000}, "y": {"datum": 0, "type": "quantitative"}}},
 {"data": {"name": "one"}, "mark": {"type": "rule", "color": "black", "strokeWidth": 1.5}, "encoding": {"x": {"datum": 0, "type": "quantitative"}, "y": {"datum": -2, "type": "quantitative"}, "y2": {"datum": 2}}},
 {"data": {"name": "ticks"}, "mark": {"type": "tick", "orient": "vertical", "color": "black", "size": 16, "thickness": 1.5}, "encoding": {"x": {"field": "t", "type": "quantitative"}, "y": {"datum": 0, "type": "quantitative"}}},
 {"data": {"name": "caps"}, "mark": {"type": "tick", "orient": "horizontal", "color": "black", "size": 20, "thickness": 1.5}, "encoding": {"x": {"datum": 0, "type": "quantitative"}, "y": {"field": "v", "type": "quantitative"}}},
 {"data": {"values": [{"lab": "F3"}]}, "mark": {"type": "text", "align": "left", "baseline": "alphabetic", "fontSize": 21, "color": "black"}, "encoding": {"x": {"datum": -95, "type": "quantitative"}, "y": {"datum": -3.3, "type": "quantitative"}, "text": {"field": "lab"}}}
]},
{"layer": [
 {"data": {"name": "erp"}, "transform": [{"filter": "datum.ch === 'FZ'"}], "mark": {"type": "line", "color": "black", "strokeWidth": 2.5, "strokeJoin": "round"},
  "encoding": {"x": {"field": "t", "type": "quantitative", "scale": {"domain": [-1587.4, 2743.4], "nice": false, "zero": false}},
   "y": {"field": "v", "type": "quantitative", "scale": {"domain": [-10.09, 43.24], "nice": false, "zero": false, "reverse": true}},
   "strokeDash": {"field": "cond", "type": "nominal", "scale": {"domain": ["P", "N"], "range": [[1, 0], [2, 3]]}}}},
 {"data": {"name": "one"}, "mark": {"type": "rule", "color": "black", "strokeWidth": 1.5}, "encoding": {"x": {"datum": -100, "type": "quantitative"}, "x2": {"datum": 1000}, "y": {"datum": 0, "type": "quantitative"}}},
 {"data": {"name": "one"}, "mark": {"type": "rule", "color": "black", "strokeWidth": 1.5}, "encoding": {"x": {"datum": 0, "type": "quantitative"}, "y": {"datum": -2, "type": "quantitative"}, "y2": {"datum": 2}}},
 {"data": {"name": "ticks"}, "mark": {"type": "tick", "orient": "vertical", "color": "black", "size": 16, "thickness": 1.5}, "encoding": {"x": {"field": "t", "type": "quantitative"}, "y": {"datum": 0, "type": "quantitative"}}},
 {"data": {"name": "caps"}, "mark": {"type": "tick", "orient": "horizontal", "color": "black", "size": 20, "thickness": 1.5}, "encoding": {"x": {"datum": 0, "type": "quantitative"}, "y": {"field": "v", "type": "quantitative"}}},
 {"data": {"values": [{"lab": "FZ"}]}, "mark": {"type": "text", "align": "left", "baseline": "alphabetic", "fontSize": 21, "color": "black"}, "encoding": {"x": {"datum": -95, "type": "quantitative"}, "y": {"datum": -3.3, "type": "quantitative"}, "text": {"field": "lab"}}}
]},
{"layer": [
 {"data": {"name": "erp"}, "transform": [{"filter": "datum.ch === 'F4'"}], "mark": {"type": "line", "color": "black", "strokeWidth": 2.5, "strokeJoin": "round"},
  "encoding": {"x": {"field": "t", "type": "quantitative", "scale": {"domain": [-2798.0, 1532.8], "nice": false, "zero": false}},
   "y": {"field": "v", "type": "quantitative", "scale": {"domain": [-10.09, 43.24], "nice": false, "zero": false, "reverse": true}},
   "strokeDash": {"field": "cond", "type": "nominal", "scale": {"domain": ["P", "N"], "range": [[1, 0], [2, 3]]}}}},
 {"data": {"name": "one"}, "mark": {"type": "rule", "color": "black", "strokeWidth": 1.5}, "encoding": {"x": {"datum": -100, "type": "quantitative"}, "x2": {"datum": 1000}, "y": {"datum": 0, "type": "quantitative"}}},
 {"data": {"name": "one"}, "mark": {"type": "rule", "color": "black", "strokeWidth": 1.5}, "encoding": {"x": {"datum": 0, "type": "quantitative"}, "y": {"datum": -2, "type": "quantitative"}, "y2": {"datum": 2}}},
 {"data": {"name": "ticks"}, "mark": {"type": "tick", "orient": "vertical", "color": "black", "size": 16, "thickness": 1.5}, "encoding": {"x": {"field": "t", "type": "quantitative"}, "y": {"datum": 0, "type": "quantitative"}}},
 {"data": {"name": "caps"}, "mark": {"type": "tick", "orient": "horizontal", "color": "black", "size": 20, "thickness": 1.5}, "encoding": {"x": {"datum": 0, "type": "quantitative"}, "y": {"field": "v", "type": "quantitative"}}},
 {"data": {"values": [{"lab": "F4"}]}, "mark": {"type": "text", "align": "left", "baseline": "alphabetic", "fontSize": 21, "color": "black"}, "encoding": {"x": {"datum": -95, "type": "quantitative"}, "y": {"datum": -3.3, "type": "quantitative"}, "text": {"field": "lab"}}}
]},
{"layer": [
 {"data": {"name": "erp"}, "transform": [{"filter": "datum.ch === 'C3'"}], "mark": {"type": "line", "color": "black", "strokeWidth": 2.5, "strokeJoin": "round"},
  "encoding": {"x": {"field": "t", "type": "quantitative", "scale": {"domain": [-376.7, 3954.1], "nice": false, "zero": false}},
   "y": {"field": "v", "type": "quantitative", "scale": {"domain": [-23.27, 30.06], "nice": false, "zero": false, "reverse": true}},
   "strokeDash": {"field": "cond", "type": "nominal", "scale": {"domain": ["P", "N"], "range": [[1, 0], [2, 3]]}}}},
 {"data": {"name": "one"}, "mark": {"type": "rule", "color": "black", "strokeWidth": 1.5}, "encoding": {"x": {"datum": -100, "type": "quantitative"}, "x2": {"datum": 1000}, "y": {"datum": 0, "type": "quantitative"}}},
 {"data": {"name": "one"}, "mark": {"type": "rule", "color": "black", "strokeWidth": 1.5}, "encoding": {"x": {"datum": 0, "type": "quantitative"}, "y": {"datum": -2, "type": "quantitative"}, "y2": {"datum": 2}}},
 {"data": {"name": "ticks"}, "mark": {"type": "tick", "orient": "vertical", "color": "black", "size": 16, "thickness": 1.5}, "encoding": {"x": {"field": "t", "type": "quantitative"}, "y": {"datum": 0, "type": "quantitative"}}},
 {"data": {"name": "caps"}, "mark": {"type": "tick", "orient": "horizontal", "color": "black", "size": 20, "thickness": 1.5}, "encoding": {"x": {"datum": 0, "type": "quantitative"}, "y": {"field": "v", "type": "quantitative"}}},
 {"data": {"values": [{"lab": "C3"}]}, "mark": {"type": "text", "align": "left", "baseline": "alphabetic", "fontSize": 21, "color": "black"}, "encoding": {"x": {"datum": -95, "type": "quantitative"}, "y": {"datum": -3.3, "type": "quantitative"}, "text": {"field": "lab"}}}
]},
{"layer": [
 {"data": {"name": "erp"}, "transform": [{"filter": "datum.ch === 'CZ'"}], "mark": {"type": "line", "color": "black", "strokeWidth": 2.5, "strokeJoin": "round"},
  "encoding": {"x": {"field": "t", "type": "quantitative", "scale": {"domain": [-1587.4, 2743.4], "nice": false, "zero": false}},
   "y": {"field": "v", "type": "quantitative", "scale": {"domain": [-23.27, 30.06], "nice": false, "zero": false, "reverse": true}},
   "strokeDash": {"field": "cond", "type": "nominal", "scale": {"domain": ["P", "N"], "range": [[1, 0], [2, 3]]}}}},
 {"data": {"name": "one"}, "mark": {"type": "rule", "color": "black", "strokeWidth": 1.5}, "encoding": {"x": {"datum": -100, "type": "quantitative"}, "x2": {"datum": 1000}, "y": {"datum": 0, "type": "quantitative"}}},
 {"data": {"name": "one"}, "mark": {"type": "rule", "color": "black", "strokeWidth": 1.5}, "encoding": {"x": {"datum": 0, "type": "quantitative"}, "y": {"datum": -2, "type": "quantitative"}, "y2": {"datum": 2}}},
 {"data": {"name": "ticks"}, "mark": {"type": "tick", "orient": "vertical", "color": "black", "size": 16, "thickness": 1.5}, "encoding": {"x": {"field": "t", "type": "quantitative"}, "y": {"datum": 0, "type": "quantitative"}}},
 {"data": {"name": "caps"}, "mark": {"type": "tick", "orient": "horizontal", "color": "black", "size": 20, "thickness": 1.5}, "encoding": {"x": {"datum": 0, "type": "quantitative"}, "y": {"field": "v", "type": "quantitative"}}},
 {"data": {"values": [{"lab": "CZ"}]}, "mark": {"type": "text", "align": "left", "baseline": "alphabetic", "fontSize": 21, "color": "black"}, "encoding": {"x": {"datum": -95, "type": "quantitative"}, "y": {"datum": -3.3, "type": "quantitative"}, "text": {"field": "lab"}}}
]},
{"layer": [
 {"data": {"name": "erp"}, "transform": [{"filter": "datum.ch === 'C4'"}], "mark": {"type": "line", "color": "black", "strokeWidth": 2.5, "strokeJoin": "round"},
  "encoding": {"x": {"field": "t", "type": "quantitative", "scale": {"domain": [-2798.0, 1532.8], "nice": false, "zero": false}},
   "y": {"field": "v", "type": "quantitative", "scale": {"domain": [-23.27, 30.06], "nice": false, "zero": false, "reverse": true}},
   "strokeDash": {"field": "cond", "type": "nominal", "scale": {"domain": ["P", "N"], "range": [[1, 0], [2, 3]]}}}},
 {"data": {"name": "one"}, "mark": {"type": "rule", "color": "black", "strokeWidth": 1.5}, "encoding": {"x": {"datum": -100, "type": "quantitative"}, "x2": {"datum": 1000}, "y": {"datum": 0, "type": "quantitative"}}},
 {"data": {"name": "one"}, "mark": {"type": "rule", "color": "black", "strokeWidth": 1.5}, "encoding": {"x": {"datum": 0, "type": "quantitative"}, "y": {"datum": -2, "type": "quantitative"}, "y2": {"datum": 2}}},
 {"data": {"name": "ticks"}, "mark": {"type": "tick", "orient": "vertical", "color": "black", "size": 16, "thickness": 1.5}, "encoding": {"x": {"field": "t", "type": "quantitative"}, "y": {"datum": 0, "type": "quantitative"}}},
 {"data": {"name": "caps"}, "mark": {"type": "tick", "orient": "horizontal", "color": "black", "size": 20, "thickness": 1.5}, "encoding": {"x": {"datum": 0, "type": "quantitative"}, "y": {"field": "v", "type": "quantitative"}}},
 {"data": {"values": [{"lab": "C4"}]}, "mark": {"type": "text", "align": "left", "baseline": "alphabetic", "fontSize": 21, "color": "black"}, "encoding": {"x": {"datum": -95, "type": "quantitative"}, "y": {"datum": -3.3, "type": "quantitative"}, "text": {"field": "lab"}}}
]},
{"layer": [
 {"data": {"name": "erp"}, "transform": [{"filter": "datum.ch === 'P3'"}], "mark": {"type": "line", "color": "black", "strokeWidth": 2.5, "strokeJoin": "round"},
  "encoding": {"x": {"field": "t", "type": "quantitative", "scale": {"domain": [-376.7, 3954.1], "nice": false, "zero": false}},
   "y": {"field": "v", "type": "quantitative", "scale": {"domain": [-35.82, 17.51], "nice": false, "zero": false, "reverse": true}},
   "strokeDash": {"field": "cond", "type": "nominal", "scale": {"domain": ["P", "N"], "range": [[1, 0], [2, 3]]}}}},
 {"data": {"name": "one"}, "mark": {"type": "rule", "color": "black", "strokeWidth": 1.5}, "encoding": {"x": {"datum": -100, "type": "quantitative"}, "x2": {"datum": 1000}, "y": {"datum": 0, "type": "quantitative"}}},
 {"data": {"name": "one"}, "mark": {"type": "rule", "color": "black", "strokeWidth": 1.5}, "encoding": {"x": {"datum": 0, "type": "quantitative"}, "y": {"datum": -2, "type": "quantitative"}, "y2": {"datum": 2}}},
 {"data": {"name": "ticks"}, "mark": {"type": "tick", "orient": "vertical", "color": "black", "size": 16, "thickness": 1.5}, "encoding": {"x": {"field": "t", "type": "quantitative"}, "y": {"datum": 0, "type": "quantitative"}}},
 {"data": {"name": "caps"}, "mark": {"type": "tick", "orient": "horizontal", "color": "black", "size": 20, "thickness": 1.5}, "encoding": {"x": {"datum": 0, "type": "quantitative"}, "y": {"field": "v", "type": "quantitative"}}},
 {"data": {"values": [{"lab": "P3"}]}, "mark": {"type": "text", "align": "left", "baseline": "alphabetic", "fontSize": 21, "color": "black"}, "encoding": {"x": {"datum": -95, "type": "quantitative"}, "y": {"datum": -3.3, "type": "quantitative"}, "text": {"field": "lab"}}}
]},
{"layer": [
 {"data": {"name": "erp"}, "transform": [{"filter": "datum.ch === 'PZ'"}], "mark": {"type": "line", "color": "black", "strokeWidth": 2.5, "strokeJoin": "round"},
  "encoding": {"x": {"field": "t", "type": "quantitative", "scale": {"domain": [-1587.4, 2743.4], "nice": false, "zero": false}},
   "y": {"field": "v", "type": "quantitative", "scale": {"domain": [-35.82, 17.51], "nice": false, "zero": false, "reverse": true}},
   "strokeDash": {"field": "cond", "type": "nominal", "scale": {"domain": ["P", "N"], "range": [[1, 0], [2, 3]]}}}},
 {"data": {"name": "one"}, "mark": {"type": "rule", "color": "black", "strokeWidth": 1.5}, "encoding": {"x": {"datum": -100, "type": "quantitative"}, "x2": {"datum": 1000}, "y": {"datum": 0, "type": "quantitative"}}},
 {"data": {"name": "one"}, "mark": {"type": "rule", "color": "black", "strokeWidth": 1.5}, "encoding": {"x": {"datum": 0, "type": "quantitative"}, "y": {"datum": -2, "type": "quantitative"}, "y2": {"datum": 2}}},
 {"data": {"name": "ticks"}, "mark": {"type": "tick", "orient": "vertical", "color": "black", "size": 16, "thickness": 1.5}, "encoding": {"x": {"field": "t", "type": "quantitative"}, "y": {"datum": 0, "type": "quantitative"}}},
 {"data": {"name": "caps"}, "mark": {"type": "tick", "orient": "horizontal", "color": "black", "size": 20, "thickness": 1.5}, "encoding": {"x": {"datum": 0, "type": "quantitative"}, "y": {"field": "v", "type": "quantitative"}}},
 {"data": {"values": [{"lab": "PZ"}]}, "mark": {"type": "text", "align": "left", "baseline": "alphabetic", "fontSize": 21, "color": "black"}, "encoding": {"x": {"datum": -95, "type": "quantitative"}, "y": {"datum": -3.3, "type": "quantitative"}, "text": {"field": "lab"}}}
]},
{"layer": [
 {"data": {"name": "erp"}, "transform": [{"filter": "datum.ch === 'P4'"}], "mark": {"type": "line", "color": "black", "strokeWidth": 2.5, "strokeJoin": "round"},
  "encoding": {"x": {"field": "t", "type": "quantitative", "scale": {"domain": [-2798.0, 1532.8], "nice": false, "zero": false}},
   "y": {"field": "v", "type": "quantitative", "scale": {"domain": [-35.82, 17.51], "nice": false, "zero": false, "reverse": true}},
   "strokeDash": {"field": "cond", "type": "nominal", "scale": {"domain": ["P", "N"], "range": [[1, 0], [2, 3]]}}}},
 {"data": {"name": "one"}, "mark": {"type": "rule", "color": "black", "strokeWidth": 1.5}, "encoding": {"x": {"datum": -100, "type": "quantitative"}, "x2": {"datum": 1000}, "y": {"datum": 0, "type": "quantitative"}}},
 {"data": {"name": "one"}, "mark": {"type": "rule", "color": "black", "strokeWidth": 1.5}, "encoding": {"x": {"datum": 0, "type": "quantitative"}, "y": {"datum": -2, "type": "quantitative"}, "y2": {"datum": 2}}},
 {"data": {"name": "ticks"}, "mark": {"type": "tick", "orient": "vertical", "color": "black", "size": 16, "thickness": 1.5}, "encoding": {"x": {"field": "t", "type": "quantitative"}, "y": {"datum": 0, "type": "quantitative"}}},
 {"data": {"name": "caps"}, "mark": {"type": "tick", "orient": "horizontal", "color": "black", "size": 20, "thickness": 1.5}, "encoding": {"x": {"datum": 0, "type": "quantitative"}, "y": {"field": "v", "type": "quantitative"}}},
 {"data": {"values": [{"lab": "P4"}]}, "mark": {"type": "text", "align": "left", "baseline": "alphabetic", "fontSize": 21, "color": "black"}, "encoding": {"x": {"datum": -95, "type": "quantitative"}, "y": {"datum": -3.3, "type": "quantitative"}, "text": {"field": "lab"}}}
]},
{"layer": [
 {"data": {"name": "one"}, "mark": {"type": "rule", "color": "black", "strokeWidth": 1.5},
  "encoding": {"x": {"datum": -100, "type": "quantitative", "scale": {"domain": [-2798.0, 1532.8], "nice": false, "zero": false}}, "x2": {"datum": 1000},
   "y": {"datum": 0, "type": "quantitative", "scale": {"domain": [-48.71, 4.62], "nice": false, "zero": false, "reverse": true}}}},
 {"data": {"name": "sticks"}, "mark": {"type": "rule", "color": "black", "strokeWidth": 1.5}, "encoding": {"x": {"field": "t", "type": "quantitative"}, "y": {"datum": 0, "type": "quantitative"}, "y2": {"datum": -0.7}}},
 {"data": {"name": "one"}, "mark": {"type": "rule", "color": "black", "strokeWidth": 1.5}, "encoding": {"x": {"datum": 1000, "type": "quantitative"}, "y": {"datum": 0, "type": "quantitative"}, "y2": {"datum": -2}}},
 {"data": {"name": "one"}, "mark": {"type": "tick", "orient": "horizontal", "color": "black", "size": 7, "thickness": 1.5}, "encoding": {"x": {"datum": 1000, "type": "quantitative"}, "y": {"datum": -2, "type": "quantitative"}}},
 {"data": {"values": [{"lab": "– 2.0 µV"}]}, "mark": {"type": "text", "align": "left", "baseline": "middle", "fontSize": 18, "color": "black"}, "encoding": {"x": {"datum": 1020, "type": "quantitative"}, "y": {"datum": -1.7, "type": "quantitative"}, "text": {"field": "lab"}}},
 {"data": {"values": [{"lab": "0"}]}, "mark": {"type": "text", "align": "center", "baseline": "middle", "fontSize": 18, "color": "black"}, "encoding": {"x": {"datum": 0, "type": "quantitative"}, "y": {"datum": 1.6, "type": "quantitative"}, "text": {"field": "lab"}}},
 {"data": {"values": [{"lab": "1000 msec"}]}, "mark": {"type": "text", "align": "center", "baseline": "middle", "fontSize": 18, "color": "black"}, "encoding": {"x": {"datum": 1195, "type": "quantitative"}, "y": {"datum": 1.6, "type": "quantitative"}, "text": {"field": "lab"}}}
]}
]
}
